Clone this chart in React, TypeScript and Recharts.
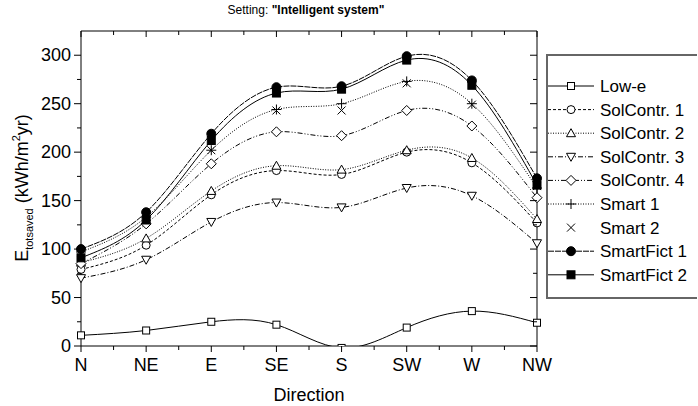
import React from "react";
import { LineChart, Line, XAxis, YAxis } from "recharts";

const categories = ["N", "NE", "E", "SE", "S", "SW", "W", "NW"];

const lowE = [11, 16, 25, 22, -2, 19, 36, 24];
const solContr1 = [79, 104, 156, 181, 177, 200, 189, 127];
const solContr2 = [86, 111, 160, 186, 182, 202, 194, 131];
const solContr3 = [70, 89, 128, 148, 143, 163, 155, 106];
const solContr4 = [85, 126, 188, 221, 217, 243, 227, 153];
const smart1 = [97, 133, 202, 244, 250, 273, 250, 163];
const smart2 = [96, 131, 202, 243, 243, 271, 249, 165];
const smartFict1 = [100, 138, 219, 267, 268, 299, 274, 173];
const smartFict2 = [91, 130, 212, 261, 265, 295, 269, 166];

const yTicks = [0, 25, 50, 75, 100, 125, 150, 175, 200, 225, 250, 275, 300];
const xTicks = [0, 0.5, 1, 1.5, 2, 2.5, 3, 3.5, 4, 4.5, 5, 5.5, 6, 6.5, 7];

const series = [
  { key: "lowE", name: "Low-e", values: lowE, marker: "square", dash: undefined },
  { key: "sc1", name: "SolContr. 1", values: solContr1, marker: "circle", dash: "3 2" },
  { key: "sc2", name: "SolContr. 2", values: solContr2, marker: "triUp", dash: "1 1.5" },
  { key: "sc3", name: "SolContr. 3", values: solContr3, marker: "triDown", dash: "5 2 1 2" },
  { key: "sc4", name: "SolContr. 4", values: solContr4, marker: "diamond", dash: "5 2 1 2 1 2" },
  { key: "sm1", name: "Smart 1", values: smart1, marker: "plus", dash: "1 1.5" },
  { key: "sm2", name: "Smart 2", values: smart2, marker: "cross", dash: "none" },
  { key: "sf1", name: "SmartFict 1", values: smartFict1, marker: "dot", dash: "6 1" },
  { key: "sf2", name: "SmartFict 2", values: smartFict2, marker: "block", dash: undefined },
];

const data = categories.map((cat, i) => {
  const row: any = { idx: i, cat };
  series.forEach((s) => (row[s.key] = s.values[i]));
  return row;
});

const FONT = "'Liberation Sans', Arial, sans-serif";

function Marker({ cx, cy, kind }: { cx: number; cy: number; kind: string }) {
  const st = { stroke: "#000", strokeWidth: 1 };
  switch (kind) {
    case "square":
      return <rect x={cx - 3.5} y={cy - 3.5} width={7} height={7} fill="#fff" {...st} />;
    case "circle":
      return <circle cx={cx} cy={cy} r={4} fill="#fff" {...st} />;
    case "triUp":
      return <path d={`M${cx},${cy - 4.5}L${cx + 4.5},${cy + 3.5}L${cx - 4.5},${cy + 3.5}Z`} fill="#fff" {...st} />;
    case "triDown":
      return <path d={`M${cx},${cy + 4.5}L${cx + 4.5},${cy - 3.5}L${cx - 4.5},${cy - 3.5}Z`} fill="#fff" {...st} />;
    case "diamond":
      return <path d={`M${cx},${cy - 5}L${cx + 5},${cy}L${cx},${cy + 5}L${cx - 5},${cy}Z`} fill="#fff" {...st} />;
    case "plus":
      return <path d={`M${cx - 5},${cy}H${cx + 5}M${cx},${cy - 5}V${cy + 5}`} fill="none" {...st} />;
    case "cross":
      return <path d={`M${cx - 4},${cy - 4}L${cx + 4},${cy + 4}M${cx - 4},${cy + 4}L${cx + 4},${cy - 4}`} fill="none" {...st} />;
    case "dot":
      return <circle cx={cx} cy={cy} r={4.5} fill="#000" {...st} />;
    default:
      return <rect x={cx - 4} y={cy - 4} width={8} height={8} fill="#000" {...st} />;
  }
}

const LeftTick = (p: any) => {
  const v = p.payload.value;
  const major = v % 50 === 0;
  return (
    <g>
      <line x1={p.x - (major ? 7 : 4)} x2={p.x} y1={p.y} y2={p.y} stroke="#000" />
      {major && (
        <text x={p.x - 10} y={p.y + 6} textAnchor="end" fontSize={18} fontFamily={FONT} fill="#000">
          {v}
        </text>
      )}
    </g>
  );
};

const RightTick = (p: any) => {
  const major = p.payload.value % 50 === 0;
  return <line x1={p.x} x2={p.x - (major ? 7 : 4)} y1={p.y} y2={p.y} stroke="#000" />;
};

const BottomTick = (p: any) => {
  const v = p.payload.value;
  const major = Number.isInteger(v);
  return (
    <g>
      <line x1={p.x} x2={p.x} y1={p.y} y2={p.y + (major ? 6 : 4)} stroke="#000" />
      {major && (
        <text x={p.x} y={p.y + 25} textAnchor="middle" fontSize={18} fontFamily={FONT} fill="#000">
          {categories[v]}
        </text>
      )}
    </g>
  );
};

const TopTick = (p: any) => {
  const major = Number.isInteger(p.payload.value);
  return <line x1={p.x} x2={p.x} y1={p.y} y2={p.y + (major ? 6 : 4)} stroke="#000" />;
};

const YLabel = () => (
  <text transform="translate(28,188) rotate(-90)" textAnchor="middle" fontSize={18} fontFamily={FONT} fill="#000">
    E
    <tspan fontSize={11} dy={5}>totsaved</tspan>
    <tspan fontSize={18} dy={-5}> (kWh/m</tspan>
    <tspan fontSize={11} dy={-8}>2</tspan>
    <tspan fontSize={18} dy={8}>yr)</tspan>
  </text>
);

const Title = () => (
  <text x={306} y={14} textAnchor="middle" fontSize={12} fontFamily={FONT} fill="#000">
    Setting: <tspan fontWeight="bold">"Intelligent system"</tspan>
  </text>
);

const XLabel = () => (
  <text x={309} y={401} textAnchor="middle" fontSize={18} fontFamily={FONT} fill="#000">
    Direction
  </text>
);

function LegendBox() {
  return (
    <svg width={151} height={245} style={{ position: "absolute", left: 546, top: 54 }}>
      <rect x={1} y={1} width={160} height={243} fill="#fff" stroke="#666" strokeWidth={2} />
      {series.map((s, i) => {
        const y = 32 + i * 23.6;
        return (
          <g key={s.key}>
            {s.dash !== "none" && (
              <line x1={2} x2={48} y1={y} y2={y} stroke="#000" strokeDasharray={s.dash} />
            )}
            <Marker cx={25} cy={y} kind={s.marker} />
            <text x={54} y={y + 6} fontSize={17} fontFamily={FONT} fill="#000">
              {s.name}
            </text>
          </g>
        );
      })}
    </svg>
  );
}

export default function App() {
  return (
    <div style={{ position: "absolute", left: 0, top: 0, width: 698, height: 406, overflow: "hidden", background: "#fff" }}>
      <LineChart width={698} height={406} data={data} margin={{ top: 0, right: 0, bottom: 0, left: 0 }}>
        <XAxis
          xAxisId="top"
          orientation="top"
          dataKey="idx"
          type="number"
          domain={[0, 7]}
          ticks={xTicks}
          height={31}
          tickSize={0}
          tickMargin={0}
          tick={<TopTick />}
          axisLine={{ stroke: "#000" }}
          tickLine={false}
          label={{ content: () => <Title /> }}
        />
        <XAxis
          dataKey="idx"
          type="number"
          domain={[0, 7]}
          ticks={xTicks}
          height={60}
          tickSize={0}
          tickMargin={0}
          tick={<BottomTick />}
          axisLine={{ stroke: "#000" }}
          tickLine={false}
          interval={0}
          label={{ content: () => <XLabel /> }}
        />
        <YAxis
          domain={[0, 325]}
          allowDataOverflow
          ticks={yTicks}
          width={81}
          tickSize={0}
          tickMargin={0}
          tick={<LeftTick />}
          axisLine={{ stroke: "#000" }}
          tickLine={false}
          interval={0}
          label={{ content: () => <YLabel /> }}
        />
        <YAxis
          yAxisId="right"
          orientation="right"
          domain={[0, 325]}
          allowDataOverflow
          ticks={yTicks}
          width={161}
          tickSize={0}
          tickMargin={0}
          tick={<RightTick />}
          axisLine={{ stroke: "#000" }}
          tickLine={false}
          interval={0}
        />
        {series.map((s) => (
          <Line
            key={s.key}
            dataKey={s.key}
            name={s.name}
            type="natural"
            stroke={s.dash === "none" ? "none" : "#000"}
            strokeWidth={1}
            strokeDasharray={s.dash === "none" ? undefined : s.dash}
            isAnimationActive={false}
            dot={(p: any) => <Marker key={`${s.key}-${p.index}`} cx={p.cx} cy={p.cy} kind={s.marker} />}
            activeDot={false}
          />
        ))}
      </LineChart>
      <LegendBox />
    </div>
  );
}
